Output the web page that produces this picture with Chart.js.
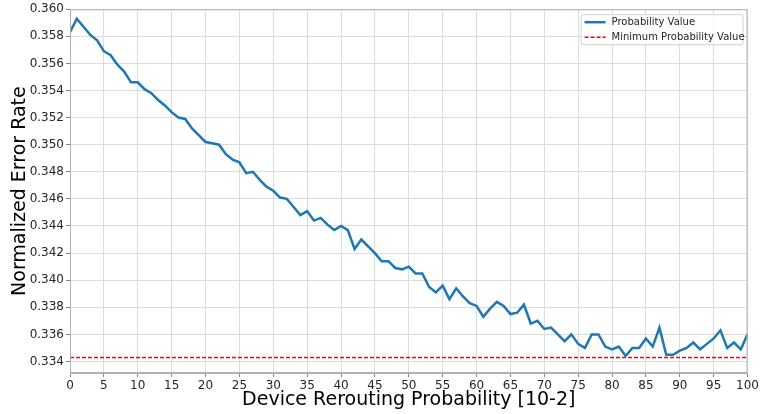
<!DOCTYPE html>
<html>
<head>
<meta charset="utf-8">
<script src="https://cdn.jsdelivr.net/npm/chart.js@4.4.0/dist/chart.umd.min.js"></script>
<style>
  html, body { margin: 0; padding: 0; background: #fff; }
  #wrap { width: 761px; height: 414px; }
</style>
</head>
<body>
<div id="wrap"><canvas id="errorChart"></canvas></div>
<script>
// normalized error rate per rerouting probability step (0..100, x 10^-2)
var errorRate = [
  0.3583, 0.3593, 0.3587, 0.3581, 0.3577, 0.3569, 0.3566, 0.3559, 0.3554, 0.3546,
  0.3546, 0.3541, 0.3538, 0.3533, 0.3529, 0.3524, 0.3520, 0.3519, 0.3512, 0.3507,
  0.3502, 0.3501, 0.3500, 0.3493, 0.3489, 0.3487, 0.3479, 0.3480, 0.3474, 0.3469,
  0.3466, 0.3461, 0.3460, 0.3454, 0.3448, 0.3451, 0.3444, 0.3446, 0.3441, 0.3437,
  0.3440, 0.3437, 0.3423, 0.3430, 0.3425, 0.3420, 0.3414, 0.3414, 0.3409, 0.3408,
  0.3410, 0.3405, 0.3405, 0.3395, 0.3391, 0.3396, 0.3386, 0.3394, 0.3388, 0.3383,
  0.3381, 0.3373, 0.3379, 0.3384, 0.3381, 0.3375, 0.3376, 0.3382, 0.3368, 0.3370,
  0.3364, 0.3365, 0.3360, 0.3355, 0.3360, 0.3353, 0.3350, 0.3360, 0.3360, 0.3351,
  0.3349, 0.3351, 0.3344, 0.3350, 0.3350, 0.3357, 0.3351, 0.3365, 0.3345, 0.3345,
  0.3348, 0.3350, 0.3354, 0.3349, 0.3353, 0.3357, 0.3363, 0.3350, 0.3354, 0.3349,
  0.3360
];
var minValue = 0.3343;

var xTicks = [0, 5, 10, 15, 20, 25, 30, 35, 40, 45, 50, 55, 60, 65, 70, 75, 80, 85, 90, 95, 100];
var yTicks = [0.334, 0.336, 0.338, 0.340, 0.342, 0.344, 0.346, 0.348, 0.350, 0.352, 0.354, 0.356, 0.358, 0.360];

var seriesLabels = ['Probability Value', 'Minimum Probability Value'];

var points = errorRate.map(function(v, i) { return { x: i, y: v }; });
var minLine = [{ x: 0, y: minValue }, { x: 100, y: minValue }];

var FONT = "'DejaVu Sans', sans-serif";

// box around the plot and a matplotlib style legend in the upper right
var framePlugin = {
  id: 'frame',
  afterDraw: function(chart) {
    var ctx = chart.ctx, a = chart.chartArea;
    ctx.save();
    ctx.strokeStyle = '#b0b0b0';
    ctx.lineWidth = 1;
    ctx.strokeRect(a.left + 0.5, a.top + 0.5, a.right - a.left - 1, a.bottom - a.top - 1);

    var ds = chart.data.datasets;
    var w = 162, h = 30;
    var x0 = a.right - 5 - w, y0 = a.top + 5;
    ctx.fillStyle = 'rgba(255,255,255,0.8)';
    ctx.strokeStyle = '#d0d0d0';
    ctx.beginPath();
    ctx.roundRect(x0 + 0.5, y0 + 0.5, w, h, 2);
    ctx.fill();
    ctx.stroke();

    ctx.font = '10px ' + FONT;
    ctx.textBaseline = 'middle';
    ctx.fillStyle = '#262626';
    for (var i = 0; i < ds.length; i++) {
      var ly = y0 + 8 + i * 15;
      ctx.beginPath();
      ctx.strokeStyle = ds[i].borderColor;
      ctx.lineWidth = ds[i].borderWidth;
      ctx.setLineDash(ds[i].borderDash || []);
      ctx.moveTo(x0 + 4, ly);
      ctx.lineTo(x0 + 25, ly);
      ctx.stroke();
      ctx.setLineDash([]);
      ctx.fillText(ds[i].label, x0 + 31, ly);
    }
    ctx.restore();
  }
};

var config = {
  type: 'line',
  data: {
    datasets: [{
      label: seriesLabels[0],
      data: points,
      borderColor: '#1f77b4',
      borderWidth: 2.5,
      pointRadius: 0,
      tension: 0,
      fill: false
    }, {
      label: seriesLabels[1],
      data: minLine,
      borderColor: '#ff0000',
      borderWidth: 1.5,
      borderDash: [4, 2],
      pointRadius: 0,
      fill: false
    }]
  },
  options: {
    responsive: true,
    maintainAspectRatio: false,
    animation: false,
    layout: { padding: { top: 9, right: 11, left: 0, bottom: 0 } },
    plugins: {
      legend: { display: false },
      tooltip: { enabled: false }
    },
    scales: {
      x: {
        type: 'linear',
        min: 0,
        max: 100,
        afterBuildTicks: function(scale) {
          scale.ticks = xTicks.map(function(v) { return { value: v }; });
        },
        afterFit: function(scale) { scale.height = 41; },
        ticks: {
          font: { family: FONT, size: 12 },
          color: '#262626',
          padding: 2,
          maxRotation: 0,
          callback: function(v) { return v; }
        },
        grid: { color: '#dcdcdc', lineWidth: 1, tickLength: 4, tickColor: '#888' },
        border: { color: '#b0b0b0', width: 1 },
        title: {
          display: true,
          text: 'Device Rerouting Probability [10-2]',
          font: { family: FONT, size: 19 },
          color: '#000',
          padding: { top: 0, bottom: 3 }
        }
      },
      y: {
        min: 0.33315,
        max: 0.360,
        afterBuildTicks: function(scale) {
          scale.ticks = yTicks.map(function(v) { return { value: v }; });
        },
        afterFit: function(scale) { scale.width = 70; },
        ticks: {
          font: { family: FONT, size: 12 },
          color: '#262626',
          padding: 2,
          callback: function(v) { return v.toFixed(3); }
        },
        grid: { color: '#dcdcdc', lineWidth: 1, tickLength: 4, tickColor: '#888' },
        border: { color: '#b0b0b0', width: 1 },
        title: {
          display: true,
          text: 'Normalized Error Rate',
          font: { family: FONT, size: 19 },
          color: '#000',
          padding: { top: 9, bottom: 0 }
        }
      }
    }
  },
  plugins: [framePlugin]
};

window.onload = function() {
  var ctx = document.getElementById('errorChart').getContext('2d');
  window.errorChart = new Chart(ctx, config);
};
</script>
</body>
</html>
